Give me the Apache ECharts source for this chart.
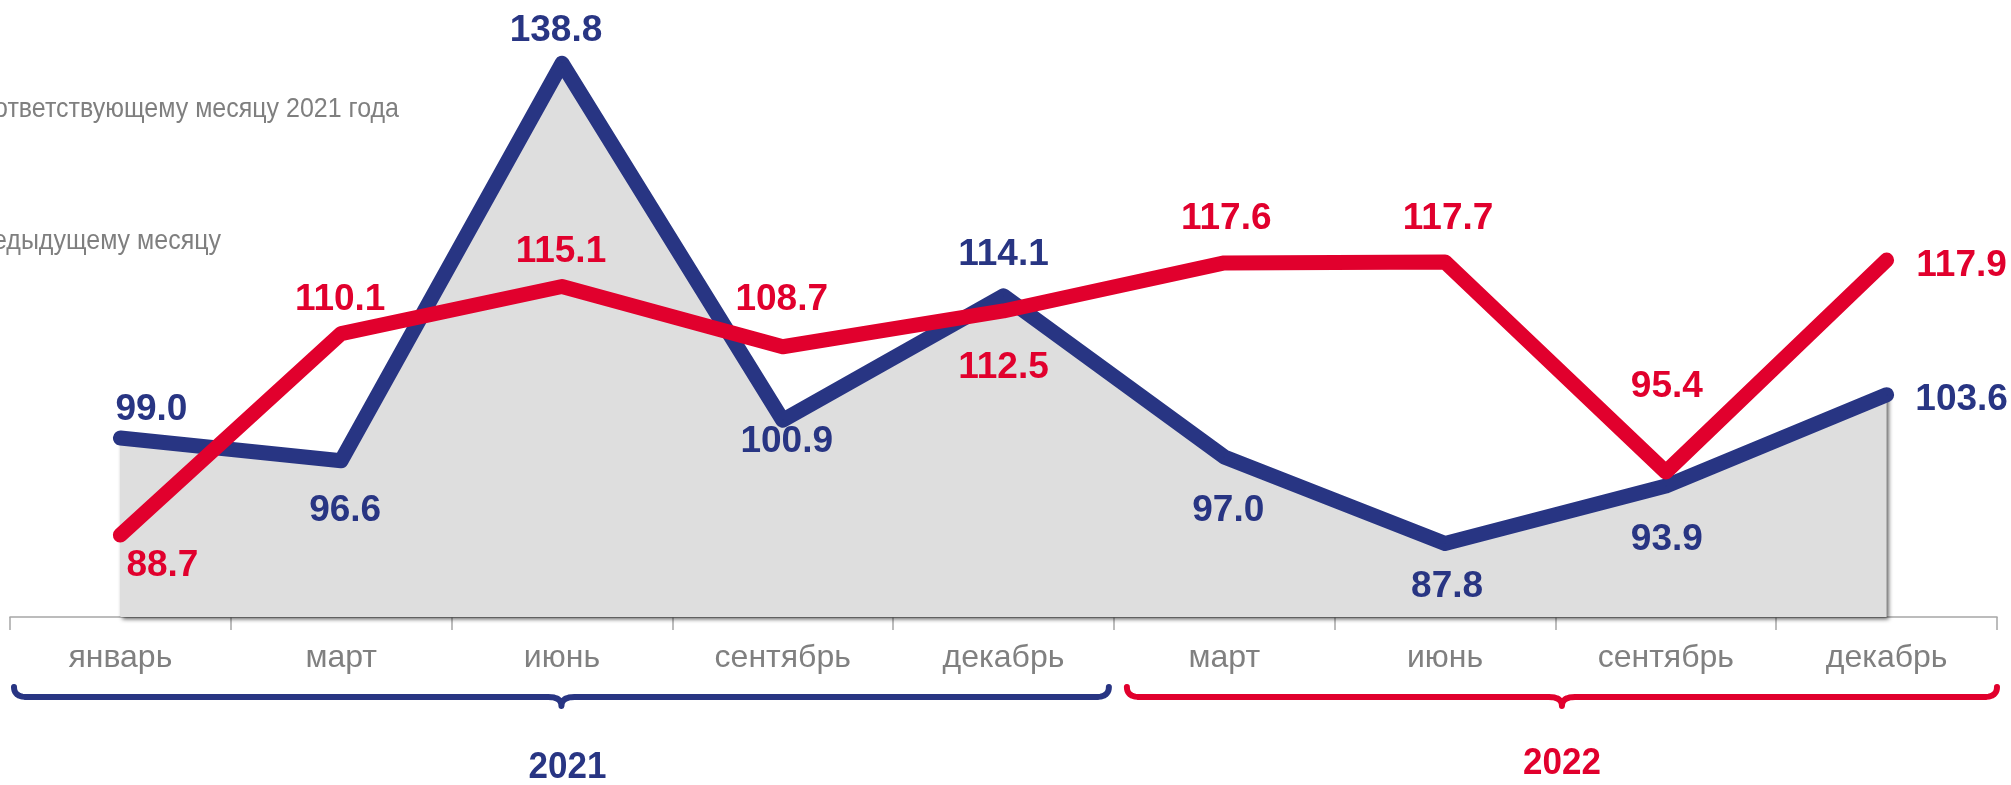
<!DOCTYPE html>
<html>
<head>
<meta charset="utf-8">
<script src="https://cdn.jsdelivr.net/npm/echarts@6/dist/echarts.min.js"></script>
<style>
html,body{margin:0;padding:0;background:#fff;}
#chart{width:2011px;height:785px;}
</style>
</head>
<body>
<div id="chart"></div>
<script>
// ---- data ----
const categories = ['январь', 'март', 'июнь', 'сентябрь', 'декабрь', 'март', 'июнь', 'сентябрь', 'декабрь'];
const yoyValues = [99.0, 96.6, 138.8, 100.9, 114.1, 97.0, 87.8, 93.9, 103.6];
const momValues = [88.7, 110.1, 115.1, 108.7, 112.5, 117.6, 117.7, 95.4, 117.9];
const yearLabels = ['2021', '2022'];
const seriesNames = ['в % к соответствующему месяцу 2021 года', 'в % к предыдущему месяцу'];

// ---- layout (label offsets from point, px) ----
const yoyLabelOffsets = [[31, -28], [4, 50], [-6, -33], [4, 22], [0, -41], [4, 54], [2, 43], [1, 54], [75, 5]];
const momLabelOffsets = [[42, 31], [-1, -34], [-1, -35], [-1, -47], [0, 57], [2, -44], [3, -43], [1, -85], [75, 6]];

const BLUE = '#283583';
const RED = '#e1002d';
const FONT = '"Liberation Sans", Arial, sans-serif';

const chart = echarts.init(document.getElementById('chart'), null, {renderer: 'canvas'});

function mkData(values, offsets) {
  return values.map((v, i) => ({value: v, label: {offset: offsets[i]}}));
}

const labelBase = {
  show: true,
  position: 'inside',
  align: 'center',
  verticalAlign: 'middle',
  fontFamily: FONT,
  fontWeight: 'bold',
  fontSize: 37,
  formatter: p => Number(p.value).toFixed(1)
};

const option = {
  animation: false,
  backgroundColor: '#ffffff',
  grid: {left: 10, right: 14, top: 52, bottom: 168, containLabel: false},
  xAxis: {
    type: 'category',
    data: categories,
    boundaryGap: true,
    axisLine: {show: true, lineStyle: {color: '#a6a6a6', width: 1.5}},
    axisTick: {show: true, length: 13, lineStyle: {color: '#a6a6a6', width: 1.5}},
    axisLabel: {color: '#808080', fontFamily: FONT, fontSize: 32, margin: 25, interval: 0},
    splitLine: {show: false}
  },
  yAxis: {
    type: 'value', min: 80, max: 140, show: false, splitLine: {show: false}
  },
  series: [
    {
      name: seriesNames[0],
      type: 'line',
      data: mkData(yoyValues, yoyLabelOffsets),
      symbol: 'circle',
      symbolSize: 1,
      itemStyle: {color: BLUE},
      lineStyle: {color: BLUE, width: 15, cap: 'round', join: 'round'},
      areaStyle: {
        color: '#dedede', opacity: 1, origin: 'start',
        shadowColor: 'rgba(0,0,0,0.65)', shadowBlur: 4, shadowOffsetX: 2, shadowOffsetY: 2
      },
      label: Object.assign({}, labelBase, {color: BLUE}),
      z: 2
    },
    {
      name: seriesNames[1],
      type: 'line',
      data: mkData(momValues, momLabelOffsets),
      symbol: 'circle',
      symbolSize: 1,
      itemStyle: {color: RED},
      lineStyle: {color: RED, width: 15, cap: 'round', join: 'round'},
      label: Object.assign({}, labelBase, {color: RED}),
      z: 3
    }
  ]
};

chart.setOption(option);

// ---- decorations: truncated legend texts, braces, year labels ----
const cx = i => chart.convertToPixel({xAxisIndex: 0}, i);
const catW = cx(1) - cx(0);
const b0 = cx(0) - catW / 2;          // left edge of axis
const bSplit = cx(4) + catW / 2;      // boundary 2021 / 2022
const bEnd = cx(8) + catW / 2;        // right edge of axis
const yBrace = 697;

function quad(p0, c, p1, n) {
  const pts = [];
  for (let k = 1; k <= n; k++) {
    const t = k / n, u = 1 - t;
    pts.push([u * u * p0[0] + 2 * u * t * c[0] + t * t * p1[0], u * u * p0[1] + 2 * u * t * c[1] + t * t * p1[1]]);
  }
  return pts;
}
function bracePoints(x0, x1, y) {
  const xm = (x0 + x1) / 2, r = 13, h = 10, d = 9;
  let pts = [[x0, y - h]];
  pts = pts.concat(quad([x0, y - h], [x0, y], [x0 + r, y], 10));
  pts.push([xm - r, y]);
  pts = pts.concat(quad([xm - r, y], [xm, y], [xm, y + d], 8));
  pts = pts.concat(quad([xm, y + d], [xm, y], [xm + r, y], 8));
  pts.push([x1 - r, y]);
  pts = pts.concat(quad([x1 - r, y], [x1, y], [x1, y - h], 10));
  return pts;
}

const blueX0 = b0 + 4, blueX1 = bSplit - 5;
const redX0 = bSplit + 13, redX1 = bEnd;

function txt(text, x, y, align, fill, font, sy) {
  return {type: 'text', z: 10, x: x, y: y, scaleY: sy,
    style: {text: text, x: 0, y: 0, align: align, verticalAlign: 'middle', textAlign: align, textVerticalAlign: 'middle', fill: fill, font: font}};
}

chart.setOption({
  graphic: [
    txt(seriesNames[0], 399, 109, 'right', '#7f7f7f', '25px ' + FONT, 1.12),
    txt(seriesNames[1], 221, 241, 'right', '#7f7f7f', '25px ' + FONT, 1.12),
    {type: 'polyline', z: 10, shape: {points: bracePoints(blueX0, blueX1, yBrace)}, style: {fill: null, stroke: BLUE, lineWidth: 6, lineCap: 'round', lineJoin: 'round'}},
    {type: 'polyline', z: 10, shape: {points: bracePoints(redX0, redX1, yBrace)}, style: {fill: null, stroke: RED, lineWidth: 6, lineCap: 'round', lineJoin: 'round'}},
    txt(yearLabels[0], (blueX0 + blueX1) / 2 + 6, 768, 'center', BLUE, 'bold 35px ' + FONT, 1.08),
    txt(yearLabels[1], (redX0 + redX1) / 2, 764, 'center', RED, 'bold 35px ' + FONT, 1.08)
  ]
});
</script>
</body>
</html>
